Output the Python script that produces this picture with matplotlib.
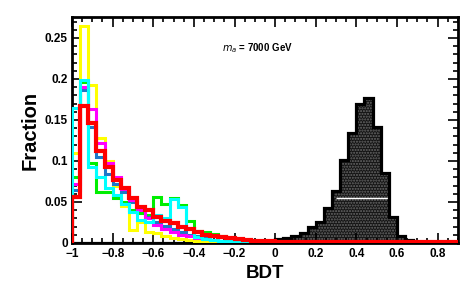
import numpy as np
import matplotlib
matplotlib.use('Agg')
import matplotlib.pyplot as plt
from matplotlib.ticker import MultipleLocator

plt.rcParams['font.family'] = ['Liberation Sans', 'DejaVu Sans']

# 50 bins of width 0.04 from -1 to 1
edges = np.linspace(-1, 1, 51)

signal = [0.0005] * 25 + [
    0.0045, 0.0065, 0.0085, 0.012, 0.020, 0.0256, 0.043, 0.064, 0.101, 0.134,
    0.170, 0.1765, 0.142, 0.085, 0.032, 0.008, 0.0035, 0.0015, 0.001, 0.0005,
    0.0005, 0.0005, 0.0, 0.0, 0.0]

yellow = [0.110, 0.265, 0.193, 0.128, 0.100, 0.070, 0.045, 0.016, 0.026, 0.013,
          0.012, 0.009, 0.006, 0.005, 0.004, 0.003, 0.003, 0.002, 0.002, 0.001,
          0.001] + [0.0] * 29
green = [0.080, 0.196, 0.097, 0.062, 0.062, 0.055, 0.050, 0.040, 0.036, 0.034,
         0.0565, 0.048, 0.0545, 0.046, 0.027, 0.0146, 0.013, 0.011, 0.008, 0.006,
         0.004, 0.003, 0.002, 0.001, 0.001] + [0.0] * 25
blue = [0.065, 0.187, 0.142, 0.105, 0.084, 0.072, 0.062, 0.050, 0.040, 0.032,
        0.026, 0.021, 0.017, 0.013, 0.010, 0.008, 0.006, 0.004, 0.003, 0.002,
        0.001, 0.001] + [0.0] * 28
magenta = [0.072, 0.190, 0.163, 0.122, 0.0975, 0.080, 0.066, 0.052, 0.040, 0.030,
           0.022, 0.017, 0.013, 0.010, 0.008, 0.006, 0.005, 0.004, 0.003, 0.002,
           0.001, 0.001] + [0.0] * 28
cyan = [0.165, 0.199, 0.093, 0.080, 0.067, 0.058, 0.047, 0.038, 0.028, 0.026,
        0.034, 0.030, 0.054, 0.044, 0.018, 0.007, 0.005, 0.004, 0.003, 0.002,
        0.001, 0.001] + [0.0] * 28
red = [0.056, 0.167, 0.146, 0.112, 0.093, 0.077, 0.067, 0.055, 0.044, 0.040,
       0.032, 0.027, 0.024, 0.020, 0.017, 0.014, 0.010, 0.008, 0.007, 0.006,
       0.005, 0.004, 0.003, 0.0025, 0.002] + [0.0015] * 15 + [0.001] * 10

xticks = [-1, -0.8, -0.6, -0.4, -0.2, 0, 0.2, 0.4, 0.6, 0.8]
xticklabels = ['\u22121', '\u22120.8', '\u22120.6', '\u22120.4', '\u22120.2',
               '0', '0.2', '0.4', '0.6', '0.8']
yticks = [0, 0.05, 0.1, 0.15, 0.2, 0.25]
yticklabels = ['0', '0.05', '0.1', '0.15', '0.2', '0.25']

fig = plt.figure(figsize=(4.77, 3.07), dpi=100)
ax = fig.add_axes([0.151, 0.2085, 0.809, 0.736])

# signal: dark dotted fill + thick black outline
ax.stairs(signal, edges, fill=True, facecolor='#141414', edgecolor='#6a6a6a',
          hatch='......', linewidth=0, zorder=1)
ax.hlines(0.055, 0.30, 0.555, color='white', lw=1.0, zorder=1.5)
ax.stairs(signal, edges, color='black', linewidth=2.3, baseline=0, zorder=2)

lines = [(yellow, '#ffff00', 2.2), (green, '#00ee00', 2.2), (blue, '#1e78c8', 2.2),
         (magenta, '#ff00ff', 2.2), (cyan, '#00ffff', 2.2), (red, '#ff0000', 3.0)]
for vals, col, lw in lines:
    ax.stairs(vals, edges, color=col, linewidth=lw, baseline=0, zorder=3)

ax.set_xlim(-1, 0.9)
ax.set_ylim(0, 0.2755)

ax.set_xticks(xticks)
ax.set_xticklabels(xticklabels)
ax.set_yticks(yticks)
ax.set_yticklabels(yticklabels)
ax.xaxis.set_minor_locator(MultipleLocator(0.05))
ax.yaxis.set_minor_locator(MultipleLocator(0.01))
ax.tick_params(which='both', direction='in', top=True, right=True, width=1.2,
               labelsize=8.5)
ax.tick_params(axis='x', pad=3.5)
ax.tick_params(axis='y', pad=3)
ax.tick_params(which='major', length=7)
ax.tick_params(which='minor', length=3.5)
for lab in ax.get_xticklabels() + ax.get_yticklabels():
    lab.set_fontweight('bold')
for sp in ax.spines.values():
    sp.set_linewidth(2.0)
    sp.set_zorder(2.5)

ax.set_xlabel('BDT', fontsize=13.5, fontweight='bold', labelpad=4)
ax.set_ylabel('Fraction', fontsize=14.5, fontweight='bold', labelpad=4)

ax.text(0.389, 0.863, r'$m_a$ = 7000 GeV', transform=ax.transAxes, fontsize=7,
        fontweight='bold', ha='left', va='center')

fig.savefig('out.png', dpi=100)
